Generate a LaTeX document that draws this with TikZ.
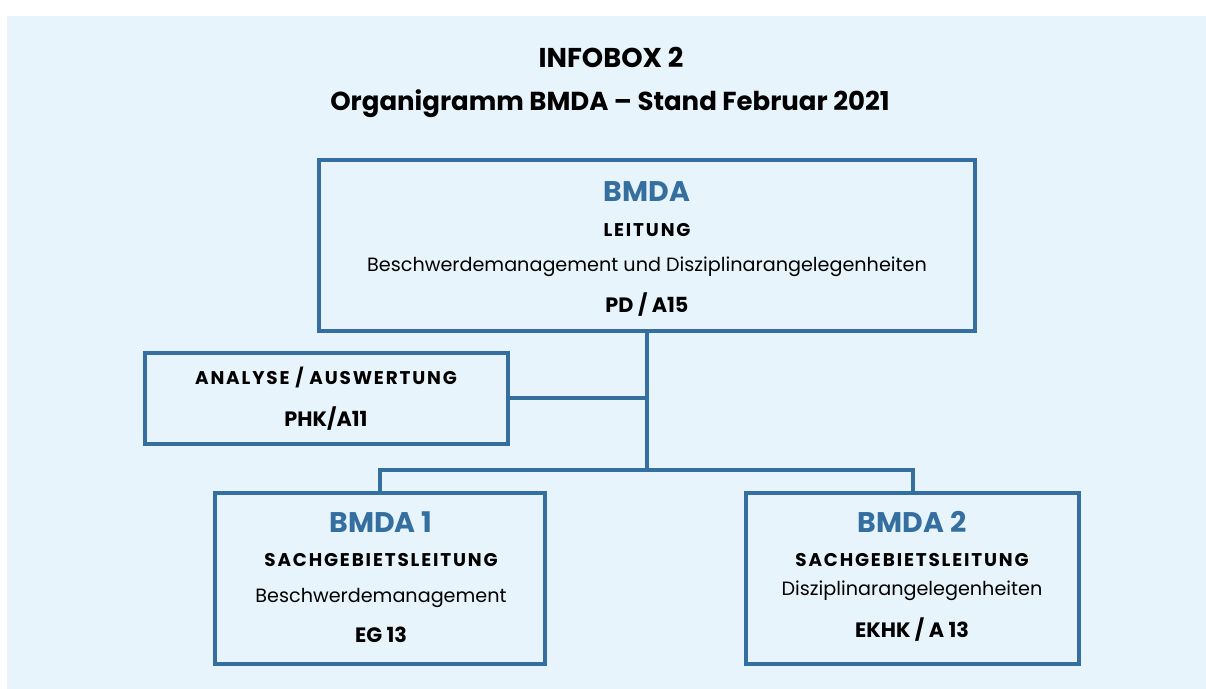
\documentclass[tikz,border=0pt]{standalone}
\usepackage{fontspec}
\setmainfont{Poppins}
\newfontfamily\spacedfont{Poppins}[LetterSpace=10]
\usetikzlibrary{positioning}

\definecolor{bmdablue}{HTML}{356FA0}
\definecolor{infobg}{HTML}{E8F4FC}

\tikzset{
  unit/.style={draw=bmdablue,line width=2pt,inner sep=0pt,outer sep=0pt},
  link/.style={draw=bmdablue,line width=2pt},
  title/.style={anchor=base,font=\fontsize{13.6}{16}\selectfont\bfseries},
  subtitle/.style={anchor=base,font=\fontsize{13}{15}\selectfont\bfseries},
  head/.style={anchor=base,text=bmdablue,font=\fontsize{14.2}{16}\selectfont\bfseries},
  role/.style={anchor=base,font=\fontsize{9.2}{10}\spacedfont\bfseries},
  field/.style={anchor=base,font=\fontsize{9.6}{11}\selectfont},
  grade/.style={anchor=base,font=\fontsize{10.4}{12}\selectfont\bfseries}
}

\begin{document}
\begin{tikzpicture}[x=0.5pt,y=-0.5pt]
  \useasboundingbox (0,0) rectangle (1206,689);
  \fill[infobg] (7,16) rectangle (1206,689);

  % heading
  \node[title] (t1) at (611,68) {INFOBOX 2};
  \node[subtitle] (t2) at (610,111) {Organigramm BMDA – Stand Februar 2021};

  % boxes
  \node[unit,minimum width=328pt,minimum height=85.5pt] (top) at (647,245.5) {};
  \node[unit,minimum width=181.5pt,minimum height=45.5pt] (ana) at (326.5,398.5) {};
  \node[unit,minimum width=165pt,minimum height=85.5pt] (sg1) at (380,578.5) {};
  \node[unit,minimum width=166.5pt,minimum height=85.5pt] (sg2) at (912.5,578.5) {};

  % Leitung
  \node[head]  (top-n) at (647,202) {BMDA};
  \node[role]  (top-r) at (647,237) {LEITUNG};
  \node[field] (top-f) at (647,272) {Beschwerdemanagement und Disziplinarangelegenheiten};
  \node[grade] (top-g) at (647,313) {PD / A15};

  % Analyse
  \node[role]  (ana-r) at (326,385) {ANALYSE / AUSWERTUNG};
  \node[grade] (ana-g) at (326,427) {PHK/A11};

  % Sachgebiete
  \node[head]  (sg1-n) at (381,533) {BMDA 1};
  \node[role]  (sg1-r) at (381,567) {SACHGEBIETSLEITUNG};
  \node[field] (sg1-f) at (381,603) {Beschwerdemanagement};
  \node[grade] (sg1-g) at (381,643) {EG 13};

  \node[head]  (sg2-n) at (912,533) {BMDA 2};
  \node[role]  (sg2-r) at (912,567) {SACHGEBIETSLEITUNG};
  \node[field] (sg2-f) at (912,596) {Disziplinarangelegenheiten};
  \node[grade] (sg2-g) at (912,638) {EKHK / A 13};

  % lines
  \coordinate (hub) at (647,470);
  \draw[link] (top.south) -- (hub);
  \draw[link] (ana.east) -- (ana.east -| top.south);
  \draw[link] (hub) -| (sg1.north);
  \draw[link] (hub) -| (sg2.north);
\end{tikzpicture}
\end{document}
